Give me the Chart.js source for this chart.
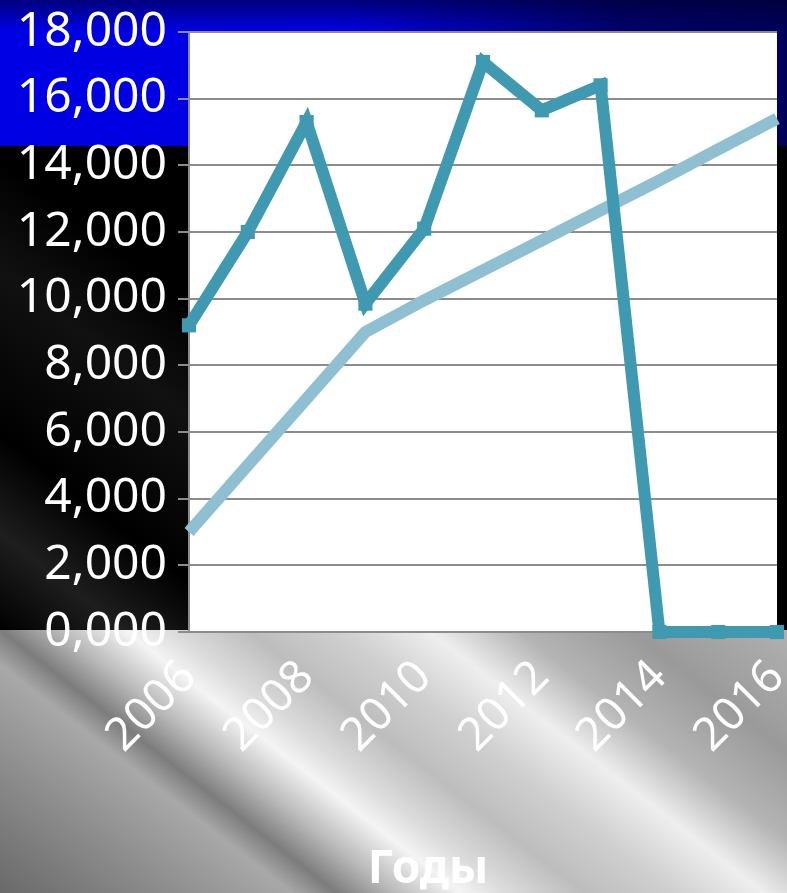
<!DOCTYPE html>
<html lang="ru">
<head>
  <meta charset="UTF-8">
  <title>Годы</title>
  <script src="https://cdn.jsdelivr.net/npm/chart.js"></script>
  <style>
    html, body {
      margin: 0;
      padding: 0;
      width: 787px;
      height: 893px;
      overflow: hidden;
      font-family: "Comic Sans MS", "Noto Sans", sans-serif;
    }
    #bg {
      position: absolute;
      left: 0; top: 0;
      width: 787px; height: 893px;
      background: #000;
    }
    /* синяя полоса флага */
    #bg-blue {
      position: absolute;
      left: 0; top: 0;
      width: 787px; height: 146px;
      background:
        linear-gradient(to bottom, rgba(0,0,40,0.55) 0px, rgba(0,0,40,0) 30px),
        linear-gradient(to right, #0000e4 0%, #0000e0 45%, #00006a 80%, #00005a 100%);
    }
    /* блик на чёрной полосе */
    #bg-black {
      position: absolute;
      left: 0; top: 146px;
      width: 787px; height: 486px;
      background:
        linear-gradient(38deg, #000 0%, #1e1e1e 9%, #000 18%, #111 33%, #000 43%, #000 100%);
    }
    /* белая полоса флага */
    #bg-white {
      position: absolute;
      left: 0; top: 630px;
      width: 787px; height: 263px;
      background:
        linear-gradient(38deg, #6a6a6a 0%, #8a8a8a 14%, #a8a8a8 26%, #7c7c7c 30%, #b8b8b8 35%, #f4f4f4 41%, #dcdcdc 45%, #bdbdbd 52%, #cfcfcf 60%, #eeeeee 68%, #b4b4b4 76%, #9a9a9a 86%, #b0b0b0 100%);
    }
    #wrap {
      position: absolute;
      left: 0; top: 0;
      width: 787px; height: 893px;
    }
    #axis-title {
      position: absolute;
      left: 328px;
      width: 200px;
      top: 842px;
      text-align: center;
      color: #fff;
      font-weight: bold;
      font-size: 46px;
      line-height: 46px;
    }
  </style>
</head>
<body>
  <div id="bg"></div>
  <div id="bg-blue"></div>
  <div id="bg-black"></div>
  <div id="bg-white"></div>
  <div id="wrap">
    <canvas id="chart" width="787" height="893"></canvas>
  </div>
  <div id="axis-title">Годы</div>

  <script>
    const years = ['2006', '2007', '2008', '2009', '2010', '2011', '2012', '2013', '2014', '2015', '2016'];
    const darkSeries = [9200, 12000, 15300, 9850, 12100, 17100, 15650, 16400, 0, 0, 0];
    const lightSeries = [3000, 5000, 7000, 9000, 9950, 10850, 11750, 12650, 13550, 14480, 15400];
    const yTickLabels = ['0,000', '2,000', '4,000', '6,000', '8,000', '10,000', '12,000', '14,000', '16,000', '18,000'];

    const gridColor = '#8c8c8c';

    // белый фон области построения
    const plotBackground = {
      id: 'plotBackground',
      beforeDraw(chart) {
        const { ctx, chartArea } = chart;
        ctx.save();
        ctx.fillStyle = '#ffffff';
        ctx.fillRect(chartArea.left, chartArea.top, chartArea.right - chartArea.left, chartArea.bottom - chartArea.top);
        ctx.restore();
      }
    };

    new Chart(document.getElementById('chart').getContext('2d'), {
      type: 'line',
      data: {
        labels: years,
        datasets: [
          {
            data: darkSeries,
            borderColor: '#3f9ab1',
            backgroundColor: '#3f9ab1',
            borderWidth: 12,
            pointStyle: 'rect',
            pointRadius: 10,
            pointHoverRadius: 10,
            pointBorderWidth: 0,
            borderJoinStyle: 'miter',
            tension: 0,
            clip: false
          },
          {
            data: lightSeries,
            borderColor: '#8ec0d2',
            backgroundColor: '#8ec0d2',
            borderWidth: 12,
            pointRadius: 0,
            pointHoverRadius: 0,
            tension: 0,
            clip: false
          }
        ]
      },
      options: {
        responsive: false,
        animation: false,
        layout: { padding: { top: 32, right: 10, left: 0, bottom: 0 } },
        plugins: {
          legend: { display: false },
          tooltip: { enabled: false }
        },
        scales: {
          x: {
            offset: false,
            grid: { display: false },
            border: { display: true, color: gridColor, width: 2 },
            ticks: {
              color: '#ffffff',
              font: { family: '"Comic Sans MS", "Noto Sans", sans-serif', size: 46 },
              maxRotation: 45,
              minRotation: 45,
              autoSkip: false,
              padding: 10,
              callback: (v, i) => (i % 2 === 0 ? years[i] : '')
            },
            afterFit(scale) {
              scale.height = 261;
              scale.paddingLeft = 0;
              scale.paddingRight = 0;
            }
          },
          y: {
            min: 0,
            max: 18000,
            grid: { color: gridColor, lineWidth: 2, tickLength: 11, tickColor: gridColor },
            border: { display: true, color: gridColor, width: 2 },
            ticks: {
              stepSize: 2000,
              padding: 11,
              color: '#ffffff',
              font: { family: '"Comic Sans MS", "Noto Sans", sans-serif', size: 48 },
              callback: (v) => yTickLabels[Math.round(v / 2000)]
            },
            afterFit(scale) {
              scale.width = 189;
              scale.paddingTop = 0;
              scale.paddingBottom = 0;
            }
          }
        }
      },
      plugins: [plotBackground]
    });
  </script>
</body>
</html>
